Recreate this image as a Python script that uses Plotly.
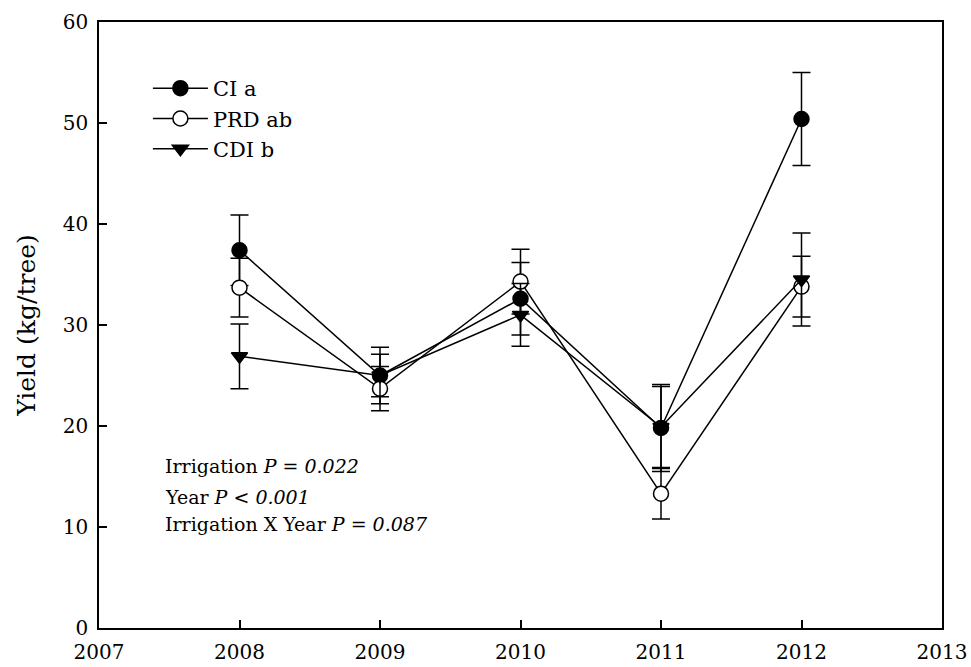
import plotly.graph_objects as go

years = [2008, 2009, 2010, 2011, 2012]
ci = [37.4, 25.0, 32.6, 19.8, 50.4]
ci_err = [3.5, 2.8, 3.6, 4.3, 4.6]
prd = [33.7, 23.7, 34.3, 13.3, 33.8]
prd_err = [2.9, 2.2, 3.2, 2.5, 3.0]
cdi = [26.9, 25.0, 31.0, 19.9, 34.5]
cdi_err = [3.2, 2.1, 3.1, 4.0, 4.6]

x_ticks = [2007, 2008, 2009, 2010, 2011, 2012, 2013]
y_ticks = [0, 10, 20, 30, 40, 50, 60]

stats_text = ["Irrigation <i>P = 0.022</i>",
              "Year <i>P &lt; 0.001</i>",
              "Irrigation X Year <i>P = 0.087</i>"]
stats_y = [16.0, 13.0, 10.3]

FONT = "DejaVu Serif"

fig = go.Figure()

def add(name, y, err, symbol, fill):
    fig.add_trace(go.Scatter(
        x=years, y=y, name=name, mode="lines+markers",
        line=dict(color="black", width=1.5),
        marker=dict(symbol=symbol, size=15 if symbol == "circle" else 14,
                    color=fill, line=dict(color="black", width=1.5)),
        error_y=dict(type="data", array=err, visible=True, color="black",
                     thickness=1.5, width=9),
    ))

add("CI a", ci, ci_err, "circle", "black")
add("PRD ab", prd, prd_err, "circle", "white")
add("CDI b", cdi, cdi_err, "triangle-down", "black")

axis_common = dict(
    showline=True, linecolor="black", linewidth=1.5, mirror=True,
    ticks="inside", ticklen=8, tickwidth=1.5, tickcolor="black",
    showgrid=False, zeroline=False, automargin=False,
    tickfont=dict(family=FONT, size=20, color="black"),
)

fig.update_layout(
    width=971, height=667,
    margin=dict(l=99, r=29, t=22, b=39),
    paper_bgcolor="white", plot_bgcolor="white",
    font=dict(family=FONT, color="black"),
    xaxis=dict(range=[2007, 2013], tickvals=x_ticks, ticktext=[str(t) for t in x_ticks],
               ticklabelstandoff=5, **axis_common),
    yaxis=dict(range=[0, 60], tickvals=y_ticks, ticklabelstandoff=5,
               title=dict(text="Yield (kg/tree)", font=dict(family=FONT, size=25), standoff=20),
               **axis_common),
    legend=dict(x=0.058, y=0.924, xanchor="left", yanchor="top",
                bgcolor="rgba(0,0,0,0)", font=dict(family=FONT, size=21),
                itemwidth=55, tracegroupgap=0),
    showlegend=True,
)

for txt, yv in zip(stats_text, stats_y):
    fig.add_annotation(x=2007.455, y=yv, xref="x", yref="y", text=txt, showarrow=False,
                       xanchor="left", yanchor="middle",
                       font=dict(family=FONT, size=19, color="black"))

fig.write_html("out.html")
